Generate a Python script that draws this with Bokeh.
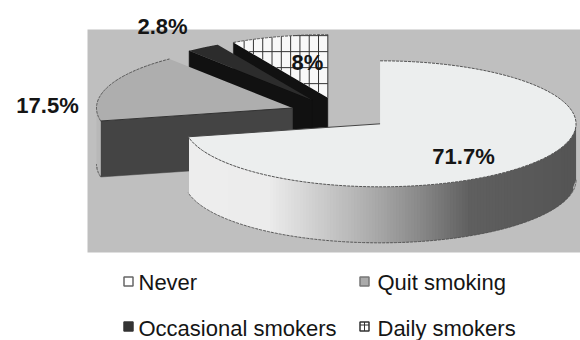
import numpy as np
from bokeh.core.properties import value
from bokeh.embed import file_html
from bokeh.models import Range1d
from bokeh.plotting import figure
from bokeh.resources import INLINE

# Survey data
categories = ["Never", "Quit smoking", "Occasional smokers", "Daily smokers"]
shares = [71.7, 17.5, 2.8, 8]

# Pie geometry, in page pixels
CX, CY = 340, 113
RX, RY = 196, 63
DEPTH = 56
EXPLODE = 0.26

TOP = ["#eceeee", "#aeaeae", "#2c2c2c", "#f8f8f8"]
WALL = ["#eeeeee", "#444444", "#111111", "#111111"]
RIM = "#b8b8b8"
FONT = value("Liberation Sans")

p = figure(width=580, height=340, output_backend="svg", toolbar_location=None,
           x_range=Range1d(0, 580), y_range=Range1d(340, 0), min_border=0,
           background_fill_color="white", border_fill_color="white", outline_line_color=None)
p.axis.visible = False
p.grid.visible = False

p.quad(left=87, right=580, top=29, bottom=252, fill_color="#bfbfbf", line_color=None)


def ring(cx, cy, a0, a1, n=80):
    t = np.radians(np.linspace(a0, a1, n))
    return cx + RX * np.sin(t), cy - RY * np.cos(t)


def crossings(coord_a, coord_b, level):
    """Where the closed polygon (coord_a, coord_b) crosses coord_a == level."""
    hits = []
    for i in range(len(coord_a) - 1):
        a0, a1 = coord_a[i], coord_a[i + 1]
        if (a0 - level) * (a1 - level) < 0:
            hits.append(coord_b[i] + (level - a0) / (a1 - a0) * (coord_b[i + 1] - coord_b[i]))
    return sorted(hits)


def wall_shade(x):
    return np.interp(x, [187, 270, 303, 370, 420, 470, 570], [238, 236, 216, 174, 138, 96, 85])


fractions = np.array(shares) / sum(shares) * 360
ends = np.cumsum(fractions)
starts = ends - fractions

# Painted back to front
for i in [3, 2, 1, 0]:
    start, end = starts[i], ends[i]
    mid = np.radians((start + end) / 2)
    ax = CX + EXPLODE * RX * np.sin(mid)
    ay = CY - EXPLODE * RY * np.cos(mid)

    # straight wall along the leading cut
    sx, sy = ring(ax, ay, start, start, 1)
    if i != 0:
        p.patch([sx[0], ax, ax, sx[0]], [sy[0], ay, ay + DEPTH, sy[0] + DEPTH],
                fill_color=WALL[i], line_color=WALL[i], line_width=0.5)

    # curved outer wall on the front half of the rim, in 3px shaded strips
    a0, a1 = max(start, 90), min(end, 270)
    if a1 > a0:
        rx, ry = ring(ax, ay, a0, a1, 400)
        if i == 0:
            grid = np.arange(rx[0], rx[-1], -3.0)
            gy = np.interp(grid, rx[::-1], ry[::-1])
            for k in range(len(grid) - 1):
                g = int(wall_shade(grid[k]))
                col = f"#{g:02x}{g:02x}{g:02x}"
                # each strip overlaps the next one so no seam shows
                j = min(k + 2, len(grid) - 1)
                p.patch([grid[k], grid[j], grid[j], grid[k]],
                        [gy[k], gy[j], gy[j] + DEPTH, gy[k] + DEPTH],
                        fill_color=col, line_color=None)
        else:
            p.patch(np.concatenate([rx, rx[::-1]]), np.concatenate([ry, ry[::-1] + DEPTH]),
                    fill_color=RIM, line_color=None)
        p.line(rx, ry + DEPTH, line_color="#555555", line_width=1, line_dash="3 1")

    # top face
    tx, ty = ring(ax, ay, start, end)
    fx = np.concatenate([[ax], tx, [ax]])
    fy = np.concatenate([[ay], ty, [ay]])
    p.patch(fx, fy, fill_color=TOP[i], line_color=None)

    if i == 3:
        # squared pattern on the daily smokers slice
        for x in np.arange(ax, ax - 110, -9.3):
            hit = crossings(fx, fy, x - 0.01)
            if len(hit) >= 2:
                p.line([x, x], [hit[0], hit[-1]], line_color="#333333", line_width=1)
        for y in np.arange(ay - 62, ay + 1, 16):
            hit = crossings(fy, fx, y + 0.01)
            if len(hit) >= 2:
                p.line([hit[0], hit[-1]], [y, y], line_color="#333333", line_width=1)

    if i in (0, 1, 3):
        p.line(tx, ty, line_color="#555555", line_width=1, line_dash="3 1")
    if i == 0:
        p.line([tx[-1], ax], [ty[-1], ay], line_color="#444444", line_width=1)
    if i == 1:
        p.line([sx[0], ax], [sy[0], ay], line_color="#333333", line_width=1)

# Value labels
label_xy = [(463, 156), (47, 105), (162, 26), (307, 62)]
for share, (x, y) in zip(shares, label_xy):
    p.text([x], [y], text=[f"{share:g}%"], text_font=FONT, text_font_size="22px",
           text_font_style="bold", text_color="#151515", text_align="center",
           text_baseline="middle")

# Legend
swatch_xy = [(128, 281), (364, 281), (128, 326), (364, 326)]
legend_x = [138, 377, 138, 377]
legend_y = [282, 282, 328, 328]
swatch_fill = ["#ffffff", "#aaaaaa", "#333333", "#ffffff"]
swatch_line = ["#666666", "#777777", "#333333", "#333333"]
for name, (x, y), tx_, ty_, fill, line in zip(categories, swatch_xy, legend_x, legend_y,
                                              swatch_fill, swatch_line):
    p.quad(left=x - 4.5, right=x + 4.5, top=y - 4.5, bottom=y + 4.5,
           fill_color=fill, line_color=line, line_width=1.5)
    p.text([tx_], [ty_], text=[name], text_font=FONT, text_font_size="22px",
           text_color="#151515", text_align="left", text_baseline="middle")
x, y = swatch_xy[3]
p.line([x - 4.5, x + 4.5], [y - 1.5, y - 1.5], line_color="#333333", line_width=1)
p.line([x, x], [y - 4.5, y + 4.5], line_color="#333333", line_width=1)

open("out.html", "w").write(file_html(p, INLINE))
